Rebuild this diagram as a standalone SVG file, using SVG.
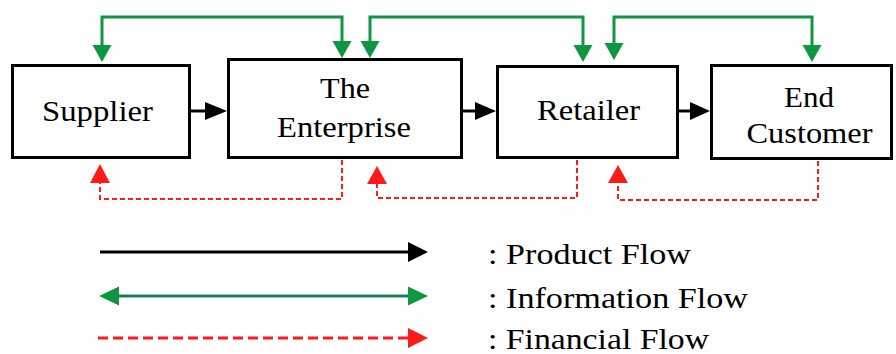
<svg xmlns="http://www.w3.org/2000/svg" width="896" height="354" viewBox="0 0 896 354">
  <style>
    .box { fill: #ffffff; stroke: #000000; stroke-width: 3; }
    .label { font-family: 'Liberation Serif', Tinos, 'Times New Roman', 'Nimbus Roman', 'Nimbus Roman No9 L', FreeSerif, 'Noto Serif', Times, serif; font-size: 30px; fill: #000000; text-anchor: middle; }
    .legend { font-family: 'Liberation Serif', Tinos, 'Times New Roman', 'Nimbus Roman', 'Nimbus Roman No9 L', FreeSerif, 'Noto Serif', Times, serif; font-size: 30px; fill: #000000; }
    .prod { stroke: #000000; stroke-width: 3; fill: none; }
    .info { stroke: #0f9640; stroke-width: 3; fill: none; }
    .fin { stroke: #ff1a1a; stroke-width: 2; fill: none; stroke-dasharray: 5 3; }
    .head-k { fill: #000000; }
    .head-g { fill: #0f9640; }
    .head-r { fill: #ff1a1a; }
  </style>
  <rect width="896" height="354" fill="#ffffff"/>

  <!-- nodes -->
  <g id="supplier">
    <rect class="box" x="12.5" y="65.5" width="177" height="92"/>
    <text class="label" x="97.5" y="121" textLength="111" lengthAdjust="spacingAndGlyphs">Supplier</text>
  </g>
  <g id="enterprise">
    <rect class="box" x="228.5" y="59.5" width="233" height="98"/>
    <text class="label" x="345" y="98" textLength="50" lengthAdjust="spacingAndGlyphs">The</text>
    <text class="label" x="344" y="137" textLength="134" lengthAdjust="spacingAndGlyphs">Enterprise</text>
  </g>
  <g id="retailer">
    <rect class="box" x="497.5" y="66.5" width="180" height="91"/>
    <text class="label" x="588.5" y="120" textLength="103" lengthAdjust="spacingAndGlyphs">Retailer</text>
  </g>
  <g id="end-customer">
    <rect class="box" x="711.5" y="65.5" width="180" height="93"/>
    <text class="label" x="809" y="107" textLength="50" lengthAdjust="spacingAndGlyphs">End</text>
    <text class="label" x="809.5" y="143" textLength="126" lengthAdjust="spacingAndGlyphs">Customer</text>
  </g>

  <!-- connectors -->
  <g id="connectors">
    <!-- product flow -->
    <line class="prod" x1="191" y1="111" x2="207" y2="111"/>
    <polygon class="head-k" points="205,102 227,111 205,120"/>
    <line class="prod" x1="463" y1="111" x2="477" y2="111"/>
    <polygon class="head-k" points="475,102 496,111 475,120"/>
    <line class="prod" x1="679" y1="111" x2="692" y2="111"/>
    <polygon class="head-k" points="690,102 710,111 690,120"/>

    <!-- information flow -->
    <polyline class="info" points="102,47 102,17 342,17 342,43"/>
    <polygon class="head-g" points="92.5,45 111.5,45 102,62"/>
    <polygon class="head-g" points="332.5,41 351.5,41 342,58"/>
    <polyline class="info" points="370,43 370,17 583,17 583,47"/>
    <polygon class="head-g" points="360.5,41 379.5,41 370,58"/>
    <polygon class="head-g" points="573.5,45 592.5,45 583,62"/>
    <polyline class="info" points="614,45 614,17 812,17 812,47"/>
    <polygon class="head-g" points="604.5,43 623.5,43 614,60"/>
    <polygon class="head-g" points="802.5,45 821.5,45 812,62"/>

    <!-- financial flow -->
    <polyline class="fin" points="342,160 342,199 100,199 100,182"/>
    <polygon class="head-r" points="90,183 110,183 100,164"/>
    <polyline class="fin" points="577,160 577,198 377,198 377,182"/>
    <polygon class="head-r" points="367,184 387,184 377,166"/>
    <polyline class="fin" points="818,161 818,200 618,200 618,182"/>
    <polygon class="head-r" points="608,183 628,183 618,165"/>
  </g>

  <!-- legend -->
  <g id="legend">
    <line class="prod" x1="100" y1="252" x2="410" y2="252"/>
    <polygon class="head-k" points="408,242 428,252 408,262"/>
    <text class="legend" x="488" y="264" textLength="203" lengthAdjust="spacingAndGlyphs">: Product Flow</text>

    <line x1="117" y1="296" x2="410" y2="296" stroke="#1b7d5c" stroke-width="3"/>
    <polygon class="head-g" points="119,286.5 99,296 119,305.5"/>
    <polygon class="head-g" points="408,286.5 428,296 408,305.5"/>
    <text class="legend" x="488" y="308" textLength="260" lengthAdjust="spacingAndGlyphs">: Information Flow</text>

    <line x1="98" y1="338" x2="410" y2="338" stroke="#ff1a1a" stroke-width="3" stroke-dasharray="10 5"/>
    <polygon class="head-r" points="408,328 428,338 408,348"/>
    <text class="legend" x="488" y="349" textLength="221" lengthAdjust="spacingAndGlyphs">: Financial Flow</text>
  </g>
</svg>
